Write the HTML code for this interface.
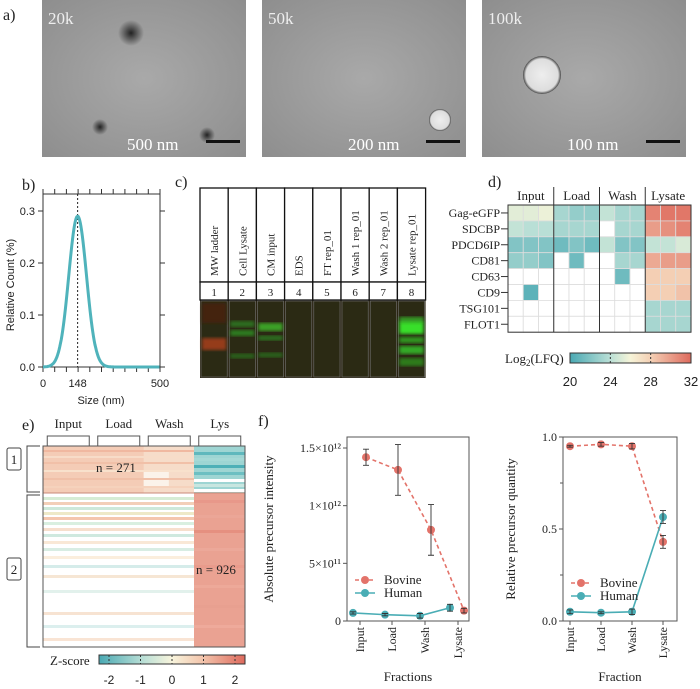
<!DOCTYPE html>
<html><head><meta charset="utf-8"><style>
body{margin:0;background:#fff}
svg{display:block}
text{font-family:"Liberation Serif",serif;fill:#222}
.sans{font-family:"Liberation Sans",sans-serif}
</style></head><body>
<svg id="fig" width="700" height="689" viewBox="0 0 700 689" xmlns="http://www.w3.org/2000/svg">
<defs>
<radialGradient id="g1" cx="50%" cy="50%" r="70%"><stop offset="0" stop-color="#a9a9a9"/><stop offset="1" stop-color="#8e8e8e"/></radialGradient>
<radialGradient id="dark"><stop offset="0" stop-color="#222"/><stop offset="1" stop-color="#222" stop-opacity="0"/></radialGradient>
<radialGradient id="disc"><stop offset="0" stop-color="#eee"/><stop offset="0.85" stop-color="#ddd"/><stop offset="1" stop-color="#444"/></radialGradient>
<linearGradient id="cbar" x1="0" x2="1"><stop offset="0" stop-color="#4aa9b3"/><stop offset="0.33" stop-color="#b9dfd6"/><stop offset="0.5" stop-color="#f6f4d8"/><stop offset="0.67" stop-color="#f4cfb4"/><stop offset="1" stop-color="#de6a5d"/></linearGradient>
<linearGradient id="zbar" x1="0" x2="1"><stop offset="0" stop-color="#4aa9b3"/><stop offset="0.3" stop-color="#b9dfd6"/><stop offset="0.5" stop-color="#f8f4dc"/><stop offset="0.7" stop-color="#f3c7ae"/><stop offset="1" stop-color="#de6a5d"/></linearGradient>
<filter id="blur"><feGaussianBlur stdDeviation="1.5"/></filter>
</defs>

<text x="3" y="20" font-size="16">a)</text>
<g>
<rect x="42" y="0" width="204" height="157" fill="url(#g1)"/>
<circle cx="131" cy="33" r="13" fill="url(#dark)"/>
<circle cx="100" cy="127" r="8" fill="url(#dark)"/>
<circle cx="207" cy="135" r="8" fill="url(#dark)"/>
<text x="48" y="24" font-size="17" style="fill:#eee">20k</text>
<text x="127" y="150" font-size="17" style="fill:#fff">500 nm</text>
<rect x="206" y="140" width="34" height="3" fill="#111"/>
</g>
<g>
<rect x="262" y="0" width="204" height="157" fill="url(#g1)"/>
<circle cx="440" cy="120" r="11" fill="url(#disc)"/>
<text x="268" y="24" font-size="17" style="fill:#eee">50k</text>
<text x="348" y="150" font-size="17" style="fill:#fff">200 nm</text>
<rect x="426" y="140" width="34" height="3" fill="#111"/>
</g>
<g>
<rect x="482" y="0" width="204" height="157" fill="url(#g1)"/>
<circle cx="542" cy="75" r="19" fill="url(#disc)"/>
<text x="488" y="24" font-size="17" style="fill:#eee">100k</text>
<text x="567" y="150" font-size="17" style="fill:#fff">100 nm</text>
<rect x="646" y="140" width="34" height="3" fill="#111"/>
</g>

<text x="22" y="190" font-size="16">b)</text>
<g id="pb"></g>
<text x="175" y="187" font-size="16">c)</text>
<g id="pc"></g>
<text x="488" y="187" font-size="16">d)</text>
<g id="pd"></g>
<text x="22" y="430" font-size="16">e)</text>
<g id="pe"></g>
<text x="258" y="426" font-size="16">f)</text>
<g id="pf1"></g>
<g id="pf2"></g>
</svg>
<script>
const sizeTicksX=[0,148,500];
const sizeTicksY=[0,0.1,0.2,0.3];
const sizeMean=148, sizePeak=0.29, sizeSd=38;
const laneLabels=["MW ladder","Cell Lysate","CM input","EDS","FT rep_01","Wash 1 rep_01","Wash 2 rep_01","Lysate rep_01"];
const lfqProteins=["Gag-eGFP","SDCBP","PDCD6IP","CD81","CD63","CD9","TSG101","FLOT1"];
const lfqGroups=["Input","Load","Wash","Lysate"];
const lfqValues=[
[25,25,25.5,22.5,22,22,23.5,22.5,22.5,31,31.5,31.5],
[23.5,23,23,22.5,22.5,22.5,null,22.5,22.5,30,30.5,31],
[21.5,21.5,21.5,21,21.5,21,23.5,21.5,21.5,23.5,23.5,24.5],
[22,22,21.5,null,21,null,null,22.5,22.5,29.5,30,30],
[null,null,null,null,null,null,null,21,null,28,28,28],
[null,20.5,null,null,null,null,null,null,null,28,28,28.5],
[null,null,null,null,null,null,null,null,null,22.5,22.5,22.5],
[null,null,null,null,null,null,null,null,null,22.5,22.5,22.5]];
const lfqTicks=[20,24,28,32];
const zGroups=["Input","Load","Wash","Lys"];
const zTicks=[-2,-1,0,1,2];
const clusterSizes=[271,926];
const fractions=["Input","Load","Wash","Lysate"];
const bovineAbs=[1.42e12,1.31e12,0.79e12,0.09e12];
const bovineAbsErr=[0.07e12,0.22e12,0.22e12,0.02e12];
const humanAbs=[0.07e12,0.055e12,0.045e12,0.115e12];
const humanAbsErr=[0.01e12,0.01e12,0.02e12,0.03e12];
const bovineRel=[0.95,0.96,0.95,0.43];
const bovineRelErr=[0.005,0.01,0.015,0.035];
const humanRel=[0.05,0.045,0.05,0.565];
const humanRelErr=[0.01,0.005,0.015,0.035];
const absTicks=[0,5e11,1e12,1.5e12];
const absTickLabels=["0","5×10¹¹","1×10¹²","1.5×10¹²"];
const relTicks=[0,0.5,1];
const relTickLabels=["0.0","0.5","1.0"];

const NS="http://www.w3.org/2000/svg";
function mk(p,tag,a,txt){const e=document.createElementNS(NS,tag);for(const k in a)e.setAttribute(k,a[k]);if(txt!==undefined)e.textContent=txt;p.appendChild(e);return e;}

(function(){
const g=document.getElementById('pb');
const x=v=>43+v/500*117, y=v=>367-v/0.3*156;
mk(g,'path',{d:'M43,194 H160 M43,194 V367 M160,194 V367 M43,367 H160',stroke:'#333',fill:'none','stroke-width':1});
sizeTicksY.forEach(t=>{mk(g,'line',{x1:43,x2:38,y1:y(t),y2:y(t),stroke:'#333'});mk(g,'line',{x1:160,x2:165,y1:y(t),y2:y(t),stroke:'#333'});
const l=mk(g,'text',{x:35,y:y(t)+4,'font-size':11,'text-anchor':'end',class:'sans'},t.toFixed(1));

});
for(let v=0;v<=500;v+=50){mk(g,'line',{x1:x(v),x2:x(v),y1:367,y2:372,stroke:'#333'});mk(g,'line',{x1:x(v),x2:x(v),y1:194,y2:189,stroke:'#333'});}
sizeTicksX.forEach(t=>{const l=mk(g,'text',{x:x(t),y:387,'font-size':11,'text-anchor':'middle',class:'sans'},t);

});
mk(g,'line',{x1:x(sizeMean),x2:x(sizeMean),y1:194,y2:367,stroke:'#222','stroke-dasharray':'2,2'});
let d='';for(let v=0;v<=500;v+=3){const yy=sizePeak*Math.exp(-Math.pow(v-sizeMean,2)/(2*sizeSd*sizeSd));d+=(v?'L':'M')+x(v).toFixed(1)+','+y(yy).toFixed(1);}
const c=mk(g,'path',{d:d,stroke:'#4fb3bb','stroke-width':3,fill:'none'});


const yl=mk(g,'text',{x:0,y:0,'font-size':11,'text-anchor':'middle',class:'sans',transform:'translate(14,285) rotate(-90)'},'Relative Count (%)');


const xl=mk(g,'text',{x:101,y:404,'font-size':11,'text-anchor':'middle',class:'sans'},'Size (nm)');


})();

(function(){
const g=document.getElementById('pc');
const x0=200,w=28.2;
mk(g,'rect',{x:x0,y:300,width:w*8,height:78,fill:'#2a2412'});
laneLabels.forEach((lab,i)=>{
 const xx=x0+i*w;
 mk(g,'rect',{x:xx,y:188,width:w,height:94,fill:'#fff',stroke:'#111','stroke-width':1.3});
 mk(g,'rect',{x:xx,y:282,width:w,height:18,fill:'#fff',stroke:'#111','stroke-width':1.3});
 const t=mk(g,'text',{x:0,y:0,'font-size':11,transform:`translate(${xx+w/2+4},276) rotate(-90)`},lab);
 
 
 const n=mk(g,'text',{x:xx+w/2,y:296,'font-size':11,'text-anchor':'middle'},i+1);
 
 
 const lane=mk(g,'rect',{x:xx+1,y:301,width:w-2,height:76,fill:'#2b2a14',stroke:'#777','stroke-width':0.6});
 
 
});
const bands=[[0,313,20,'#4a2410'],[0,344,12,'#a8401d'],[1,324,6,'#2f7a20'],[1,333,6,'#2f8a20'],[1,356,5,'#2c6a1c'],[2,327,8,'#3fb52a'],[2,338,5,'#2f7a20'],[2,355,5,'#2c6a1c'],[7,320,6,'#38b02a'],[7,328,12,'#3aff2e'],[7,340,6,'#33a824'],[7,350,8,'#35c02a'],[7,362,8,'#2e8a1f']];
bands.forEach(b=>{const r=mk(g,'rect',{x:x0+b[0]*w+2,y:b[1]-b[2]/2,width:w-4,height:b[2],fill:b[3],opacity:0.85,filter:'url(#blur)'});
 
 });
})();

function lfqColor(v){const stops=[[20,[74,169,179]],[23,[185,223,214]],[26,[246,244,216]],[28,[244,207,180]],[32,[222,106,93]]];
 for(let i=0;i<stops.length-1;i++){if(v<=stops[i+1][0]){const t=Math.max(0,(v-stops[i][0])/(stops[i+1][0]-stops[i][0]));const a=stops[i][1],b=stops[i+1][1];return `rgb(${a.map((c,k)=>Math.round(c+(b[k]-c)*t)).join(',')})`;}}
 return 'rgb(222,106,93)';}
(function(){
const g=document.getElementById('pd');
const x0=508,y0=205,cw=15.25,rh=15.9;
lfqProteins.forEach((p,r)=>{
 const l=mk(g,'text',{x:500,y:y0+r*rh+rh/2+4,'font-size':12,'text-anchor':'end'},p);
 
 
 mk(g,'line',{x1:501,x2:508,y1:y0+r*rh+rh/2,y2:y0+r*rh+rh/2,stroke:'#333'});
 lfqValues[r].forEach((v,c)=>{
  const cell=mk(g,'rect',{x:x0+c*cw,y:y0+r*rh,width:cw,height:rh,fill:v===null?'#fff':lfqColor(v),stroke:'#ddd','stroke-width':0.8});
  
  
 });
});
mk(g,'rect',{x:x0,y:y0,width:cw*12,height:rh*8,fill:'none',stroke:'#333'});
lfqGroups.forEach((gr,i)=>{
 if(i>0)mk(g,'line',{x1:x0+i*3*cw,x2:x0+i*3*cw,y1:187,y2:y0+rh*8,stroke:'#333'});
 const t=mk(g,'text',{x:x0+(i*3+1.5)*cw,y:200,'font-size':13,'text-anchor':'middle'},gr);
 
 
});
const bx=570,bw=121;
const cb=mk(g,'rect',{x:bx,y:353,width:bw,height:10,fill:'url(#cbar)',stroke:'#333'});


lfqTicks.forEach(t=>{const xx=bx+(t-20)/12*bw;
 if(t>20&&t<32)mk(g,'line',{x1:xx,x2:xx,y1:353,y2:363,stroke:'#333','stroke-dasharray':'2,2'});
 const l=mk(g,'text',{x:xx,y:386,'font-size':13,'text-anchor':'middle',class:'sans'},t);
 
 });
const ct=mk(g,'text',{x:505,y:363,'font-size':13},'Log');


mk(ct,'tspan',{dy:3,'font-size':9},'2');mk(ct,'tspan',{dy:-3},'(LFQ)');
})();

const zStripeRows=[[450,"#f0b8a0"],[456,"#f7dcc8"],[462,"#f1c0a8"],[470,"#f8e1cc"],[478,"#f0c0a8"],[486,"#f5d2bc"]];
const zLysStripes=[[452,"#5fb8bd"],[458,"#a5d9d6"],[465,"#4eb0b7"],[472,"#6cbfc2"],[479,"#fff"],[484,"#c8e6e0"],[489,"#fff"]];
const zUpperStripes=[[497,"#d6ecd4"],[502,"#f3cfb8"],[507,"#cde8d9"],[512,"#eee9c8"],[517,"#f4c6ae"],[522,"#d9efe0"],[528,"#f7dfcd"],[534,"#cfe9df"],[541,"#f9e8d6"],[548,"#d8ede3"],[556,"#fbeedd"],[565,"#d5ecea"],[575,"#f6e6d4"],[590,"#e2f1ec"],[612,"#f7e3d2"],[625,"#dcefee"],[638,"#f9e4d4"]];
const zLysStripes2=[[500,"#e8988a"],[515,"#eba697"],[530,"#e59080"],[548,"#eca899"],[565,"#e99b8c"],[585,"#eda999"],[605,"#e8a090"],[625,"#eeaa9b"]];
(function(){
const g=document.getElementById('pe');
const x0=43,x1=245,xl=194,yTop=446,ySplit=493,yBot=647;
const gw=(xl-x0)/3;
mk(g,'rect',{x:x0,y:yTop,width:xl-x0,height:ySplit-yTop,fill:"#f4ccb6"});
mk(g,'rect',{x:x0+2*gw,y:yTop,width:gw,height:ySplit-yTop,fill:"#f6dcc9"});
mk(g,'rect',{x:x0+2*gw,y:470,width:gw*0.5,height:18,fill:"#fbf3ea"});
zStripeRows.forEach(s=>{const r=mk(g,'rect',{x:x0,y:s[0],width:xl-x0,height:2,fill:s[1]});
 
 });
mk(g,'rect',{x:xl,y:yTop,width:x1-xl,height:ySplit-yTop,fill:"#9ed5d3"});
zLysStripes.forEach(s=>{const r=mk(g,'rect',{x:xl,y:s[0],width:x1-xl,height:3,fill:s[1]});
 
 });
mk(g,'rect',{x:x0,y:ySplit,width:xl-x0,height:yBot-ySplit,fill:"#fff"});
zUpperStripes.forEach(s=>{const r=mk(g,'rect',{x:x0,y:s[0],width:xl-x0,height:3,fill:s[1]});
 
 });
mk(g,'rect',{x:xl,y:ySplit,width:x1-xl,height:yBot-ySplit,fill:"#eaa292"});
zLysStripes2.forEach(s=>{const r=mk(g,'rect',{x:xl,y:s[0],width:x1-xl,height:3,fill:s[1]});
 
 });
mk(g,'line',{x1:x0,x2:x1,y1:ySplit,y2:ySplit,stroke:"#c98a7a"});
mk(g,'rect',{x:x0,y:yTop,width:x1-x0,height:yBot-yTop,fill:'none',stroke:'#555'});
const hw=(x1-x0)/4;
zGroups.forEach((gr,i)=>{const cx=x0+hw*i+hw/2;
 const t=mk(g,'text',{x:cx,y:428,'font-size':13,'text-anchor':'middle'},gr);
 
 
 mk(g,'path',{d:`M${cx-21},446 V436 H${cx+21} V446`,stroke:'#555',fill:'none'});});
[[yTop,ySplit-1,460,0],[ySplit+2,yBot,570,1]].forEach(c=>{
 mk(g,'path',{d:`M40,${c[0]} H27 V${c[1]} H40`,stroke:'#444',fill:'none'});
 const b=mk(g,'rect',{x:7,y:c[2]-12,width:14,height:22,rx:2,fill:'#fff',stroke:'#444'});
 
 
 mk(g,'text',{x:14,y:c[2]+4,'font-size':13,'text-anchor':'middle'},c[3]+1);});
const n1=mk(g,'text',{x:96,y:472,'font-size':13},'n = '+clusterSizes[0]);


const n2=mk(g,'text',{x:196,y:574,'font-size':13},'n = '+clusterSizes[1]);


const bx=99,bw=146;
const cb=mk(g,'rect',{x:bx,y:655,width:bw,height:9,fill:'url(#zbar)',stroke:'#333'});


zTicks.forEach(t=>{const xx=bx+10+(t+2)/4*(bw-20);
 mk(g,'line',{x1:xx,x2:xx,y1:655,y2:664,stroke:'#333','stroke-dasharray':'2,2'});
 const l=mk(g,'text',{x:xx,y:684,'font-size':12,'text-anchor':'middle',class:'sans'},t);
 
 });
const ct=mk(g,'text',{x:50,y:665,'font-size':13},'Z-score');


})();

function lineChart(id,box,yMax,ticks,tickLabels,catX,bov,bovE,hum,humE,bOff,hOff,xTitle,yTitle,legY,yTitleX){
 const g=document.getElementById(id);
 const y=v=>box.b-v/yMax*(box.b-box.t);
 mk(g,'path',{d:`M${box.l},${box.t} H${box.r} V${box.b} H${box.l} Z`,stroke:'#555',fill:'none'});
 ticks.forEach((t,i)=>{mk(g,'line',{x1:box.l,x2:box.l-4,y1:y(t),y2:y(t),stroke:'#555'});
  const l=mk(g,'text',{x:box.l-6,y:y(t)+4,'font-size':12,'text-anchor':'end'},tickLabels[i]);
  
  });
 if(ticks.length===3){[0.25,0.75].forEach(t=>mk(g,'line',{x1:box.l,x2:box.l-3,y1:y(t),y2:y(t),stroke:'#555'}));}
 fractions.forEach((f,i)=>{mk(g,'line',{x1:catX[i],x2:catX[i],y1:box.b,y2:box.b+4,stroke:'#555'});
  const l=mk(g,'text',{x:0,y:0,'font-size':12,'text-anchor':'end',transform:`translate(${catX[i]+4},${box.b+6}) rotate(-90)`},f);
  
  });
 const series=[[bov,bovE,bOff,'#e3736a','4,3','bovine'],[hum,humE,hOff,'#4aadb5',null,'human']];
 series.forEach(s=>{
  const pts=s[0].map((v,i)=>[catX[i]+s[2][i],y(v)]);
  const ln=mk(g,'polyline',{points:pts.map(p=>p.join(',')).join(' '),fill:'none',stroke:s[3],'stroke-width':1.6});
  if(s[4])ln.setAttribute('stroke-dasharray',s[4]);
  
  
  s[0].forEach((v,i)=>{const cx=pts[i][0];
   const pt=mk(g,'circle',{cx:cx,cy:y(v),r:4,fill:s[3]});
   
   
   const e=s[1][i];mk(g,'path',{d:`M${cx},${y(v+e)} V${y(v-e)} M${cx-3},${y(v+e)} H${cx+3} M${cx-3},${y(v-e)} H${cx+3}`,stroke:'#333','stroke-width':0.9,fill:'none'});});
 });
 [['Bovine','#e3736a','4,3'],['Human','#4aadb5',null]].forEach((L,i)=>{const yy=legY+i*13;
  const ln=mk(g,'line',{x1:box.l+8,x2:box.l+28,y1:yy,y2:yy,stroke:L[1],'stroke-width':1.6});if(L[2])ln.setAttribute('stroke-dasharray',L[2]);
  mk(g,'circle',{cx:box.l+18,cy:yy,r:4,fill:L[1]});
  const t=mk(g,'text',{x:box.l+37,y:yy+4,'font-size':13},L[0]);
  
  });
 const xt=mk(g,'text',{x:(box.l+box.r)/2,y:681,'font-size':13,'text-anchor':'middle'},xTitle);
 
 
 const yt=mk(g,'text',{x:0,y:0,'font-size':13,'text-anchor':'middle',transform:`translate(${yTitleX},${(box.t+box.b)/2}) rotate(-90)`},yTitle);
 
 
}
lineChart('pf1',{l:347,r:469,t:437,b:621},1.5e12*184/173,absTicks,absTickLabels,[360,392,425,458],
 bovineAbs,bovineAbsErr,humanAbs,humanAbsErr,[6,6,6,6],[-7,-7,-5,-8],'Fractions','Absolute precursor intensity',580,273);
lineChart('pf2',{l:563,r:677,t:437,b:621},1,relTicks,relTickLabels,[570,601,632,663],
 bovineRel,bovineRelErr,humanRel,humanRelErr,[0,0,0,0],[0,0,0,0],'Fraction','Relative precursor quantity',583,515);
</script>
</body></html>
